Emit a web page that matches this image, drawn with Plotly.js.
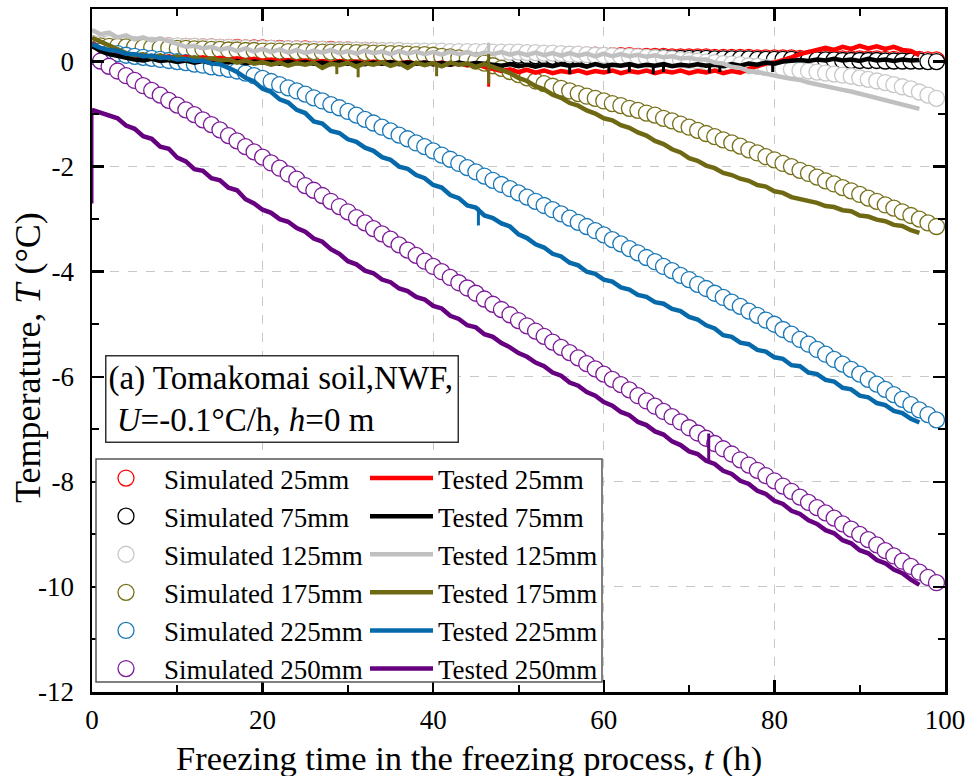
<!DOCTYPE html>
<html><head><meta charset="utf-8">
<script src="https://cdn.plot.ly/plotly-3.0.1.min.js"></script>
<style>html,body{margin:0;padding:0;background:#fff;}#chart{width:970px;height:776px;}</style>
</head><body><div id="chart"></div>
<script>
// ---------- DATA ----------
const depthLabels = ['25mm','75mm','125mm','175mm','225mm','250mm'];

const simHours = [0,1,2,3,4,5,6,7,8,9,10,11,12,13,14,15,16,17,18,19,20,21,22,23,24,25,26,27,28,29,30,31,32,33,34,35,36,37,38,39,40,41,42,43,44,45,46,47,48,49,50,51,52,53,54,55,56,57,58,59,60,61,62,63,64,65,66,67,68,69,70,71,72,73,74,75,76,77,78,79,80,81,82,83,84,85,86,87,88,89,90,91,92,93,94,95,96,97,98,99];

const sim25 = [0.33,0.33,0.32,0.32,0.31,0.31,0.31,0.30,0.30,0.30,0.29,0.29,0.29,0.28,0.28,0.27,0.27,0.27,0.26,0.26,0.26,0.25,0.25,0.24,0.24,0.24,0.23,0.23,0.23,0.22,0.22,0.21,0.21,0.21,0.20,0.20,0.20,0.19,0.19,0.18,0.18,0.18,0.17,0.17,0.17,0.16,0.16,0.16,0.15,0.15,0.15,0.14,0.14,0.14,0.13,0.13,0.13,0.12,0.12,0.12,0.11,0.11,0.11,0.11,0.10,0.10,0.10,0.10,0.09,0.09,0.09,0.09,0.09,0.08,0.08,0.08,0.08,0.08,0.07,0.07,0.07,0.07,0.07,0.06,0.06,0.06,0.06,0.06,0.05,0.05,0.05,0.05,0.05,0.04,0.04,0.04,0.04,0.04,0.03,0.03];
const sim75 = [0.30,0.30,0.29,0.29,0.28,0.28,0.28,0.27,0.27,0.27,0.26,0.26,0.26,0.25,0.25,0.24,0.24,0.24,0.23,0.23,0.23,0.22,0.22,0.21,0.21,0.21,0.20,0.20,0.20,0.19,0.19,0.18,0.18,0.18,0.17,0.17,0.17,0.16,0.16,0.15,0.15,0.15,0.14,0.14,0.14,0.13,0.13,0.13,0.12,0.12,0.12,0.11,0.11,0.11,0.10,0.10,0.10,0.09,0.09,0.09,0.08,0.08,0.08,0.08,0.07,0.07,0.07,0.07,0.06,0.06,0.06,0.06,0.06,0.05,0.05,0.05,0.05,0.05,0.04,0.04,0.04,0.04,0.04,0.03,0.03,0.03,0.03,0.03,0.02,0.02,0.02,0.02,0.02,0.01,0.01,0.01,0.01,0.01,0.00,0.00];
const sim125 = [0.35,0.34,0.34,0.33,0.33,0.32,0.32,0.31,0.31,0.30,0.30,0.29,0.29,0.28,0.28,0.27,0.27,0.26,0.26,0.25,0.25,0.25,0.24,0.24,0.24,0.23,0.23,0.23,0.22,0.22,0.22,0.22,0.21,0.21,0.21,0.21,0.21,0.20,0.20,0.20,0.20,0.20,0.19,0.19,0.19,0.19,0.19,0.18,0.18,0.18,0.18,0.17,0.17,0.16,0.16,0.15,0.14,0.14,0.13,0.12,0.12,0.11,0.10,0.10,0.09,0.08,0.07,0.06,0.05,0.03,0.02,0.01,-0.01,-0.02,-0.04,-0.05,-0.06,-0.08,-0.09,-0.11,-0.12,-0.14,-0.15,-0.17,-0.18,-0.20,-0.22,-0.24,-0.26,-0.28,-0.31,-0.34,-0.37,-0.40,-0.44,-0.48,-0.52,-0.58,-0.64,-0.70];
const sim175 = [0.30,0.30,0.29,0.29,0.28,0.28,0.27,0.27,0.26,0.26,0.25,0.25,0.24,0.24,0.23,0.23,0.22,0.22,0.21,0.21,0.20,0.20,0.20,0.19,0.19,0.19,0.19,0.18,0.18,0.18,0.18,0.17,0.17,0.16,0.16,0.15,0.15,0.14,0.13,0.13,0.12,0.10,0.09,0.07,0.05,0.01,-0.03,-0.08,-0.13,-0.19,-0.25,-0.31,-0.37,-0.42,-0.47,-0.51,-0.56,-0.61,-0.66,-0.70,-0.75,-0.80,-0.84,-0.89,-0.93,-0.98,-1.02,-1.08,-1.13,-1.19,-1.25,-1.31,-1.37,-1.43,-1.49,-1.55,-1.61,-1.68,-1.74,-1.81,-1.87,-1.94,-2.00,-2.07,-2.13,-2.20,-2.27,-2.33,-2.40,-2.46,-2.53,-2.60,-2.66,-2.73,-2.79,-2.86,-2.93,-3.00,-3.07,-3.14];
const sim225 = [0.22,0.20,0.17,0.15,0.12,0.10,0.08,0.06,0.04,0.02,0.00,-0.02,-0.05,-0.07,-0.10,-0.12,-0.15,-0.18,-0.22,-0.27,-0.32,-0.38,-0.44,-0.50,-0.56,-0.62,-0.69,-0.75,-0.82,-0.88,-0.95,-1.02,-1.10,-1.17,-1.25,-1.32,-1.40,-1.47,-1.55,-1.62,-1.70,-1.78,-1.86,-1.94,-2.02,-2.10,-2.18,-2.26,-2.34,-2.42,-2.50,-2.58,-2.66,-2.74,-2.82,-2.90,-2.98,-3.06,-3.14,-3.22,-3.30,-3.39,-3.47,-3.56,-3.64,-3.73,-3.81,-3.90,-3.98,-4.07,-4.15,-4.24,-4.32,-4.41,-4.49,-4.58,-4.66,-4.75,-4.83,-4.92,-5.00,-5.10,-5.19,-5.29,-5.38,-5.48,-5.57,-5.67,-5.76,-5.86,-5.95,-6.05,-6.14,-6.24,-6.34,-6.43,-6.53,-6.63,-6.72,-6.82];
const sim250 = [0.10,0.01,-0.09,-0.18,-0.27,-0.36,-0.46,-0.55,-0.64,-0.74,-0.83,-0.92,-1.01,-1.11,-1.20,-1.30,-1.41,-1.51,-1.62,-1.72,-1.82,-1.93,-2.03,-2.14,-2.24,-2.36,-2.45,-2.55,-2.66,-2.76,-2.86,-2.97,-3.07,-3.18,-3.28,-3.38,-3.49,-3.59,-3.69,-3.80,-3.90,-4.00,-4.11,-4.21,-4.31,-4.41,-4.52,-4.62,-4.72,-4.82,-4.93,-5.03,-5.13,-5.23,-5.34,-5.44,-5.54,-5.64,-5.75,-5.85,-5.95,-6.05,-6.15,-6.25,-6.36,-6.46,-6.56,-6.66,-6.76,-6.86,-6.97,-7.07,-7.17,-7.27,-7.37,-7.47,-7.58,-7.68,-7.78,-7.88,-7.98,-8.08,-8.18,-8.29,-8.39,-8.49,-8.59,-8.69,-8.80,-8.90,-9.00,-9.10,-9.20,-9.31,-9.41,-9.51,-9.61,-9.72,-9.82,-9.92];

const testHours = [0,1,2,3,4,5,6,7,8,9,10,11,12,13,14,15,16,17,18,19,20,21,22,23,24,25,26,27,28,29,30,31,32,33,34,35,36,37,38,39,40,41,42,43,44,45,46,47,48,49,50,51,52,53,54,55,56,57,58,59,60,61,62,63,64,65,66,67,68,69,70,71,72,73,74,75,76,77,78,79,80,81,82,83,84,85,86,87,88,89,90,91,92,93,94,95,96,97];

const test25 = [0.35,0.25,0.20,0.16,0.12,0.10,0.08,0.11,0.07,0.10,0.06,0.09,0.05,0.08,0.04,0.07,0.03,0.06,0.02,0.05,0.01,0.04,0.00,0.03,-0.01,0.02,-0.02,0.01,-0.03,0.01,-0.02,0.00,-0.03,0.00,-0.03,-0.01,-0.04,-0.01,-0.04,-0.02,-0.05,-0.02,-0.06,-0.03,-0.07,-0.05,-0.10,-0.14,-0.18,-0.15,-0.20,-0.16,-0.21,-0.17,-0.22,-0.18,-0.21,-0.17,-0.22,-0.18,-0.21,-0.17,-0.22,-0.18,-0.21,-0.17,-0.22,-0.18,-0.21,-0.17,-0.22,-0.18,-0.21,-0.17,-0.22,-0.18,-0.21,-0.14,-0.08,-0.04,-0.02,0.02,0.08,0.14,0.18,0.22,0.26,0.22,0.28,0.24,0.30,0.25,0.29,0.24,0.28,0.22,0.20,0.12];
const test75 = [0.30,0.20,0.14,0.10,0.06,0.04,0.02,0.05,0.01,0.03,-0.01,0.02,-0.02,0.01,-0.03,0.00,-0.02,0.01,-0.03,0.00,-0.02,-0.01,-0.04,0.00,-0.03,-0.01,-0.04,-0.02,-0.05,-0.01,-0.04,-0.02,-0.05,-0.02,-0.04,-0.01,-0.05,-0.02,-0.04,-0.02,-0.05,-0.03,-0.06,-0.02,-0.05,-0.03,-0.04,-0.06,-0.08,-0.05,-0.09,-0.06,-0.10,-0.06,-0.09,-0.05,-0.08,-0.06,-0.10,-0.05,-0.09,-0.06,-0.08,-0.05,-0.09,-0.06,-0.08,-0.05,-0.09,-0.06,-0.08,-0.05,-0.08,-0.06,-0.09,-0.05,-0.08,-0.04,-0.06,-0.02,-0.04,0.00,0.02,0.03,0.01,0.04,0.02,0.05,0.02,0.04,0.01,0.05,0.02,0.04,0.01,0.04,0.02,0.03];
const test125 = [0.60,0.52,0.55,0.46,0.50,0.42,0.46,0.40,0.44,0.38,0.34,0.28,0.30,0.25,0.28,0.22,0.26,0.20,0.25,0.19,0.24,0.18,0.23,0.17,0.22,0.16,0.21,0.17,0.22,0.16,0.20,0.15,0.21,0.16,0.19,0.14,0.20,0.15,0.19,0.14,0.18,0.13,0.19,0.14,0.18,0.12,0.17,0.14,0.18,0.13,0.17,0.12,0.17,0.12,0.16,0.11,0.16,0.11,0.15,0.10,0.15,0.10,0.14,0.10,0.13,0.09,0.12,0.08,0.10,0.06,0.07,0.04,0.04,-0.02,-0.04,-0.10,-0.12,-0.18,-0.20,-0.24,-0.28,-0.30,-0.33,-0.35,-0.40,-0.44,-0.48,-0.51,-0.54,-0.57,-0.61,-0.64,-0.70,-0.72,-0.77,-0.80,-0.84,-0.90];
const test175 = [0.45,0.38,0.30,0.22,0.16,0.12,0.14,0.08,0.12,0.06,0.10,0.04,0.08,0.03,0.06,0.02,0.04,-0.02,0.02,-0.04,-0.01,-0.06,-0.02,-0.08,-0.03,-0.06,-0.02,-0.12,-0.04,-0.07,-0.02,-0.10,-0.03,-0.06,-0.01,-0.08,-0.03,-0.12,-0.02,-0.07,-0.03,-0.09,-0.02,-0.06,-0.04,-0.10,-0.05,-0.10,-0.16,-0.22,-0.31,-0.37,-0.47,-0.53,-0.63,-0.69,-0.79,-0.84,-0.93,-0.99,-1.08,-1.12,-1.21,-1.26,-1.35,-1.41,-1.51,-1.57,-1.67,-1.73,-1.84,-1.89,-1.98,-2.03,-2.12,-2.16,-2.23,-2.27,-2.35,-2.38,-2.47,-2.50,-2.58,-2.61,-2.66,-2.69,-2.75,-2.77,-2.83,-2.85,-2.93,-2.95,-3.01,-3.04,-3.11,-3.13,-3.21,-3.26];
const test225 = [0.33,0.26,0.22,0.20,0.15,0.14,0.10,0.11,0.07,0.08,0.04,0.05,0.01,0.02,-0.04,-0.05,-0.12,-0.20,-0.31,-0.38,-0.52,-0.58,-0.72,-0.78,-0.92,-0.98,-1.14,-1.18,-1.32,-1.36,-1.48,-1.53,-1.64,-1.70,-1.82,-1.87,-2.00,-2.04,-2.16,-2.22,-2.35,-2.40,-2.54,-2.60,-2.74,-2.78,-2.93,-2.98,-3.08,-3.14,-3.29,-3.36,-3.48,-3.54,-3.66,-3.71,-3.83,-3.88,-4.00,-4.04,-4.15,-4.19,-4.30,-4.34,-4.44,-4.48,-4.58,-4.61,-4.71,-4.75,-4.86,-4.91,-5.02,-5.08,-5.21,-5.24,-5.35,-5.38,-5.49,-5.52,-5.63,-5.66,-5.78,-5.80,-5.92,-5.95,-6.06,-6.09,-6.21,-6.24,-6.36,-6.39,-6.50,-6.54,-6.65,-6.69,-6.80,-6.87];
const test250 = [-0.92,-0.98,-1.02,-1.08,-1.22,-1.28,-1.42,-1.47,-1.62,-1.66,-1.83,-1.90,-2.05,-2.08,-2.22,-2.26,-2.40,-2.45,-2.62,-2.70,-2.82,-2.88,-3.00,-3.05,-3.17,-3.24,-3.37,-3.43,-3.57,-3.66,-3.80,-3.86,-3.98,-4.03,-4.15,-4.20,-4.32,-4.37,-4.48,-4.53,-4.65,-4.70,-4.84,-4.90,-5.02,-5.06,-5.19,-5.24,-5.36,-5.44,-5.55,-5.62,-5.73,-5.80,-5.92,-5.98,-6.11,-6.17,-6.29,-6.36,-6.48,-6.55,-6.67,-6.73,-6.86,-6.92,-7.04,-7.10,-7.23,-7.30,-7.42,-7.47,-7.60,-7.66,-7.79,-7.85,-7.98,-8.04,-8.17,-8.23,-8.36,-8.42,-8.55,-8.61,-8.73,-8.80,-8.92,-8.98,-9.11,-9.17,-9.30,-9.36,-9.49,-9.55,-9.67,-9.74,-9.86,-9.96];

// short spikes in the measured records (null separates spikes)
const spike25X = [46.5,46.5];
const spike25Y = [-0.08,-0.48];
const spike75X = [56,56,null,60.6,60.6,null,63,63,null,65.8,65.8,null,67,67,null,72.4,72.4,null,73.6,73.6,null,79.8,79.8];
const spike75Y = [-0.05,-0.24,null,-0.05,-0.22,null,-0.05,-0.2,null,-0.05,-0.24,null,-0.05,-0.2,null,-0.05,-0.22,null,-0.05,-0.2,null,-0.02,-0.2];
const spike125X = [46.5,46.5];
const spike125Y = [0.14,0.36];
const spike175X = [28.7,28.7,null,31.2,31.2,null,40.4,40.4,null,46.5,46.5];
const spike175Y = [-0.04,-0.24,null,-0.04,-0.3,null,-0.04,-0.28,null,0.14,-0.42];
const spike225X = [45.3,45.3];
const spike225Y = [-2.78,-3.12];
const spike250X = [0,0,null,72.3,72.3];
const spike250Y = [-2.70,-0.90,null,-7.62,-7.08];

const xTickVals = [0,20,40,60,80,100];
const xTickText = ['0','20','40','60','80','100'];
const yTickVals = [-12,-10,-8,-6,-4,-2,0];
const yTickText = ['-12','-10','-8','-6','-4','-2','0'];

// ---------- STYLE ----------
const simColors  = ['#ff0000','#000000','#c8c8c8','#77701a','#1a78b8','#7d1a9a'];
const testColors = ['#ff0000','#000000','#c0c0c0','#6e6912','#066aaa','#660080'];
const FONT = 'Liberation Serif, Times New Roman, serif';

const simSeries = [sim25, sim75, sim125, sim175, sim225, sim250];
const testSeries = [test25, test75, test125, test175, test225, test250];
const spikeX = [spike25X, spike75X, spike125X, spike175X, spike225X, spike250X];
const spikeY = [spike25Y, spike75Y, spike125Y, spike175Y, spike225Y, spike250Y];

const traces = [];
simSeries.forEach((ys, i) => {
  traces.push({
    x: simHours, y: ys, type: 'scatter', mode: 'markers',
    name: 'Simulated ' + depthLabels[i], legend: 'legend',
    marker: {symbol: 'circle', size: 16, color: '#ffffff', line: {color: simColors[i], width: 1.3}},
    hoverinfo: 'skip'
  });
});
testSeries.forEach((ys, i) => {
  traces.push({
    x: testHours, y: ys, type: 'scatter', mode: 'lines',
    name: 'Tested ' + depthLabels[i], legend: 'legend2',
    line: {color: testColors[i], width: 4.5}, hoverinfo: 'skip'
  });
  traces.push({
    x: spikeX[i], y: spikeY[i], type: 'scatter', mode: 'lines', showlegend: false,
    connectgaps: false, line: {color: testColors[i], width: 3}, hoverinfo: 'skip'
  });
});

// plot area pixel geometry
const L = 92, R = 25, T = 9, B = 84, W = 970, H = 776;
const PW = W - L - R, PH = H - T - B;
const px = v => (v - L) / PW;
const py = v => (H - B - v) / PH;

const layout = {
  width: W, height: H,
  margin: {l: L, r: R, t: T, b: B},
  paper_bgcolor: '#ffffff', plot_bgcolor: '#ffffff',
  font: {family: FONT, color: '#000', size: 26},
  showlegend: true,
  xaxis: {
    range: [0, 100], tickmode: 'array', tickvals: xTickVals, ticktext: xTickText,
    ticks: 'inside', ticklen: 12, tickwidth: 2.5, tickcolor: '#000',
    showline: true, linewidth: 2.5, linecolor: '#000', mirror: 'ticks',
    showgrid: true, gridcolor: '#c8c8c8', gridwidth: 1, griddash: 'dash', zeroline: false,
    tickfont: {size: 27, family: FONT}, ticklabelstandoff: 2,
    minor: {tickmode: 'linear', tick0: 0, dtick: 10, ticks: 'inside', ticklen: 7, tickwidth: 2, tickcolor: '#000', showgrid: false},
    automargin: false
  },
  yaxis: {
    range: [-12, 1], tickmode: 'array', tickvals: yTickVals, ticktext: yTickText,
    ticks: 'inside', ticklen: 12, tickwidth: 2.5, tickcolor: '#000',
    showline: true, linewidth: 2.5, linecolor: '#000', mirror: 'ticks',
    showgrid: true, gridcolor: '#c8c8c8', gridwidth: 1, griddash: 'dash', zeroline: false,
    tickfont: {size: 27, family: FONT}, ticklabelstandoff: 10,
    minor: {tickmode: 'linear', tick0: -11, dtick: 2, ticks: 'inside', ticklen: 7, tickwidth: 2, tickcolor: '#000', showgrid: false},
    automargin: false
  },
  legend: {
    x: px(88), y: py(454), xanchor: 'left', yanchor: 'top',
    bgcolor: 'rgba(0,0,0,0)', borderwidth: 0, itemwidth: 66,
    font: {size: 27, family: FONT}, tracegroupgap: 0, itemclick: false, itemdoubleclick: false
  },
  legend2: {
    x: px(365), y: py(454), xanchor: 'left', yanchor: 'top',
    bgcolor: 'rgba(0,0,0,0)', borderwidth: 0, itemwidth: 63,
    font: {size: 27, family: FONT}, tracegroupgap: 0, itemclick: false, itemdoubleclick: false
  },
  shapes: [{
    type: 'rect', xref: 'paper', yref: 'paper', layer: 'above',
    x0: px(96), x1: px(602), y0: py(682), y1: py(459),
    fillcolor: '#ffffff', line: {color: '#555555', width: 1.5}
  }],
  annotations: [
    {
      xref: 'paper', yref: 'paper', x: px(105), y: py(355), xanchor: 'left', yanchor: 'top',
      text: '(a) Tomakomai soil,NWF,<br> <i>U</i>=-0.1°C/h, <i>h</i>=0 m',
      showarrow: false, align: 'left', valign: 'middle', width: 347, height: 81,
      font: {size: 33, family: FONT, color: '#000'},
      bgcolor: '#ffffff', bordercolor: '#333333', borderwidth: 1.5, borderpad: 2
    },
    {
      // x-axis title
      xref: 'paper', yref: 'paper', x: px(469), y: py(758), xanchor: 'center', yanchor: 'middle',
      text: 'Freezing time in the freezing process, <i>t</i> (h)', showarrow: false,
      font: {size: 34.5, family: FONT, color: '#000'}
    },
    {
      // y-axis title
      xref: 'paper', yref: 'paper', x: px(28), y: py(358), xanchor: 'center', yanchor: 'middle',
      text: 'Temperature, <i>T</i> (°C)', showarrow: false, textangle: -90,
      font: {size: 36, family: FONT, color: '#000'}
    }
  ]
};

Plotly.newPlot('chart', traces, layout, {staticPlot: true, displayModeBar: false});
</script>
</body></html>
